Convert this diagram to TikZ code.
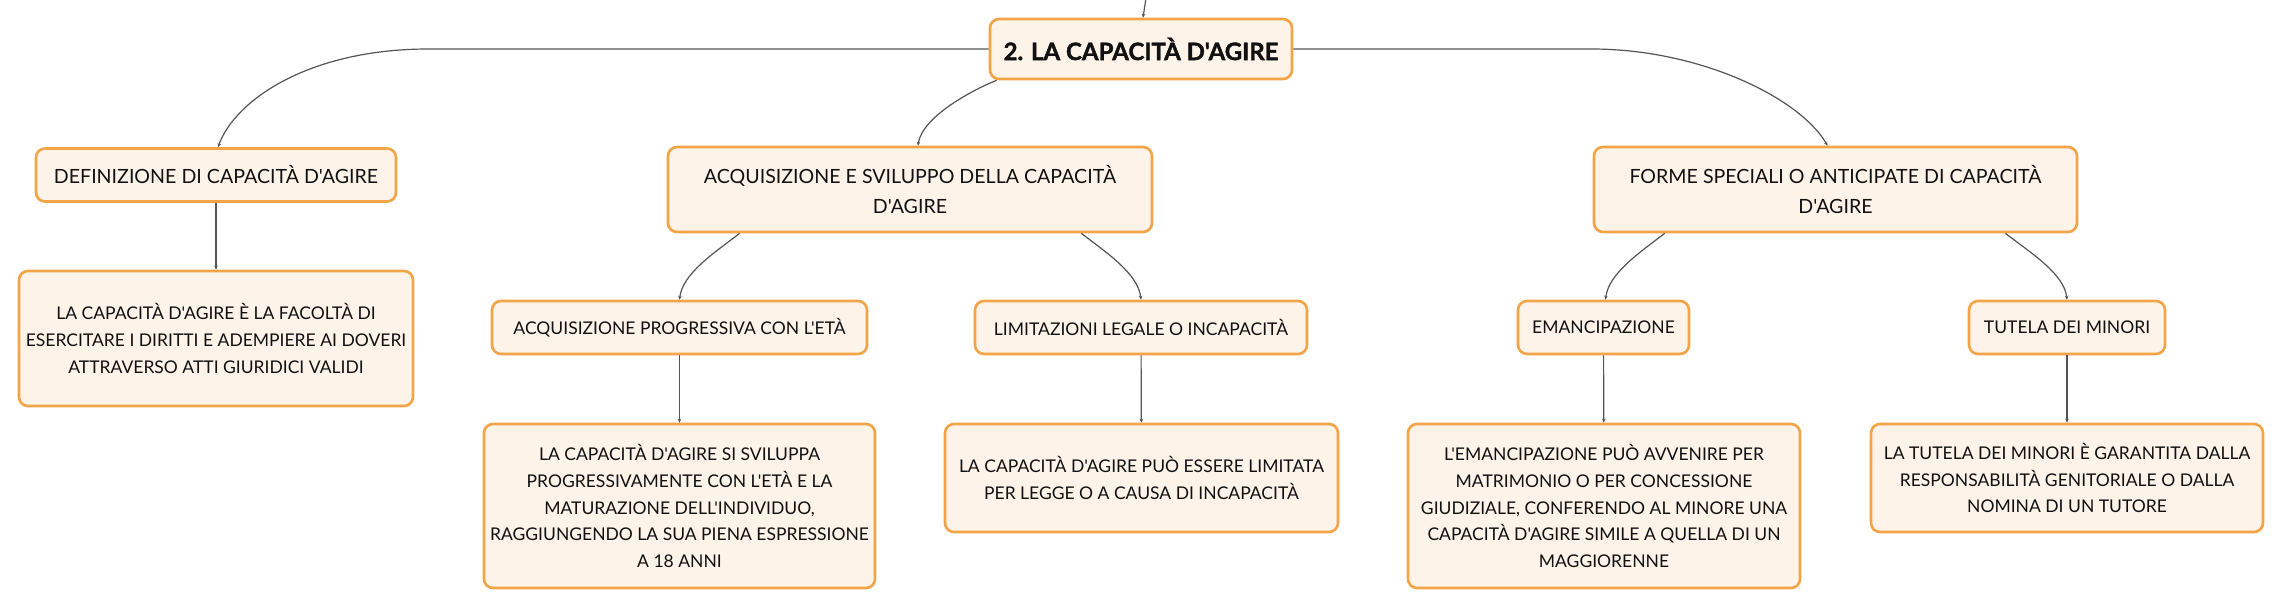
\documentclass[tikz,border=0pt]{standalone}
\usepackage{fontspec}
\setmainfont{Lato}[Ligatures=TeXOff, BoldFeatures={FakeBold=1.6}]
\usetikzlibrary{arrows.meta}
\definecolor{boxfill}{HTML}{FDF3E8}
\definecolor{boxdraw}{HTML}{F3A446}
\definecolor{linec}{HTML}{555555}
\definecolor{txt}{HTML}{111111}
\begin{document}
\begin{tikzpicture}[x=1pt,y=-1pt,
  box/.style={draw=boxdraw, fill=boxfill, line width=2.6pt, rounded corners=9pt,
    align=center, inner sep=0pt, text=txt},
  lvl/.style={box, font=\fontsize{19.6}{30}\selectfont, minimum height=53pt},
  lvltwo/.style={box, font=\fontsize{19.6}{30}\selectfont, minimum height=85pt},
  sub/.style={box, font=\fontsize{17.5}{26.7}\selectfont, minimum height=53pt},
  desc/.style={box, font=\fontsize{17.5}{26.7}\selectfont},
  conn/.style={draw=linec, line width=1.2pt, -{Stealth[length=4pt,width=3.5pt]}},
]
\useasboundingbox (0,0) rectangle (2284,609);
\fill[white] (0,0) rectangle (2284,609);

% nodes
\node[box, font=\fontsize{24}{28}\selectfont\bfseries, minimum width=302pt, minimum height=60pt] (root) at (1141,49) {2. LA CAPACITÀ D'AGIRE};

\node[lvl, minimum width=360pt] (def) at (216,175) {DEFINIZIONE DI CAPACITÀ D'AGIRE};
\node[desc, minimum width=394pt, minimum height=135pt] (defd) at (216,338.5)
  {LA CAPACITÀ D'AGIRE È LA FACOLTÀ DI\\ESERCITARE I DIRITTI E ADEMPIERE AI DOVERI\\ATTRAVERSO ATTI GIURIDICI VALIDI};

\node[lvltwo, minimum width=484pt] (acq) at (910,189.5) {ACQUISIZIONE E SVILUPPO DELLA CAPACITÀ\\D'AGIRE};
\node[sub, minimum width=375pt] (prog) at (679.5,327.5) {ACQUISIZIONE PROGRESSIVA CON L'ETÀ};
\node[sub, minimum width=332pt] (lim) at (1141,327.5) {LIMITAZIONI LEGALE O INCAPACITÀ};
\node[desc, minimum width=391pt, minimum height=164pt] (progd) at (679.5,506)
  {LA CAPACITÀ D'AGIRE SI SVILUPPA\\PROGRESSIVAMENTE CON L'ETÀ E LA\\MATURAZIONE DELL'INDIVIDUO,\\RAGGIUNGENDO LA SUA PIENA ESPRESSIONE\\A 18 ANNI};
\node[desc, minimum width=393pt, minimum height=108pt] (limd) at (1141.5,478)
  {LA CAPACITÀ D'AGIRE PUÒ ESSERE LIMITATA\\PER LEGGE O A CAUSA DI INCAPACITÀ};

\node[lvltwo, minimum width=483pt] (forme) at (1835.5,189.5) {FORME SPECIALI O ANTICIPATE DI CAPACITÀ\\D'AGIRE};
\node[sub, minimum width=171pt] (emanc) at (1603.5,327.5) {EMANCIPAZIONE};
\node[sub, minimum width=196pt] (tutela) at (2067,327.5) {TUTELA DEI MINORI};
\node[desc, minimum width=392pt, minimum height=164pt] (emancd) at (1604,506)
  {L'EMANCIPAZIONE PUÒ AVVENIRE PER\\MATRIMONIO O PER CONCESSIONE\\GIUDIZIALE, CONFERENDO AL MINORE UNA\\CAPACITÀ D'AGIRE SIMILE A QUELLA DI UN\\MAGGIORENNE};
\node[desc, minimum width=392pt, minimum height=108pt] (tutelad) at (2067,478)
  {LA TUTELA DEI MINORI È GARANTITA DALLA\\RESPONSABILITÀ GENITORIALE O DALLA\\NOMINA DI UN TUTORE};

% connectors
\coordinate (topin) at (1146,-2);
\draw[conn] (topin) -- ([xshift=2pt]root.north);

\draw[conn] (root.west) -- ++(-560,0) .. controls +(-120,0) and +(17,-47) .. ([xshift=2pt]def.north);
\draw[conn] (root.east) -- ++(298,0) .. controls +(110,0) and +(-27,-47) .. ([xshift=-8pt]forme.north);
\draw[conn] ([xshift=8pt]root.south west) .. controls +(-23,9) and +(4,-29) .. ([xshift=8pt]acq.north);

\draw[conn] ([xshift=73pt]acq.south west) .. controls +(-26,20) and +(3,-26) .. (prog.north);
\draw[conn] ([xshift=-72pt]acq.south east) .. controls +(26,20) and +(-3,-26) .. (lim.north);
\draw[conn] ([xshift=72pt]forme.south west) .. controls +(-26,20) and +(3,-26) .. ([xshift=2pt]emanc.north);
\draw[conn] ([xshift=-73pt]forme.south east) .. controls +(26,20) and +(-3,-26) .. (tutela.north);

\draw[conn] (def) -- (defd);
\draw[conn] (prog) -- (progd);
\draw[conn] (lim) -- (limd);
\draw[conn] (emanc) -- (emancd);
\draw[conn] (tutela) -- (tutelad);
\end{tikzpicture}
\end{document}
